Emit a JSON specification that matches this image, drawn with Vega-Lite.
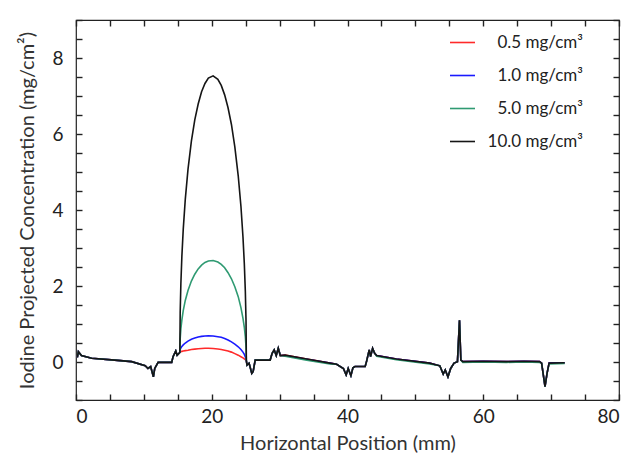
{
  "$schema": "https://vega.github.io/schema/vega-lite/v6.json",
  "width": 543,
  "height": 380,
  "autosize": {"type": "none"},
  "padding": {"left": 76, "top": 20, "right": 3, "bottom": 55},
  "background": "white",
  "config": {
    "view": {"stroke": "#222", "strokeWidth": 1.2},
    "font": "Lato",
    "axis": {"labelFont": "Lato", "labelFontSize": 19, "labelColor": "#222", "titleFont": "Lato", "titleFontSize": 20, "titleFontWeight": "normal", "titleColor": "#333"}
  },
  "data": {
    "values": [
      {"x":0.2,"r":0.12,"b":0.12,"g":0.12,"k":0.12},
      {"x":0.35,"r":0.27,"b":0.27,"g":0.27,"k":0.27},
      {"x":0.8,"r":0.17,"b":0.17,"g":0.17,"k":0.17},
      {"x":2.3,"r":0.10,"b":0.10,"g":0.10,"k":0.10},
      {"x":5.7,"r":0.05,"b":0.05,"g":0.05,"k":0.05},
      {"x":8.2,"r":0.01,"b":0.01,"g":0.01,"k":0.01},
      {"x":10.2,"r":-0.10,"b":-0.10,"g":-0.10,"k":-0.10},
      {"x":10.6,"r":-0.17,"b":-0.17,"g":-0.17,"k":-0.17},
      {"x":11.0,"r":-0.12,"b":-0.12,"g":-0.12,"k":-0.12},
      {"x":11.4,"r":-0.39,"b":-0.39,"g":-0.39,"k":-0.39},
      {"x":11.6,"r":-0.17,"b":-0.17,"g":-0.17,"k":-0.17},
      {"x":12.1,"r":-0.01,"b":-0.01,"g":-0.01,"k":-0.01},
      {"x":14.1,"r":-0.01,"b":-0.01,"g":-0.01,"k":-0.01},
      {"x":14.3,"r":0.14,"b":0.14,"g":0.14,"k":0.14},
      {"x":14.7,"r":0.29,"b":0.29,"g":0.29,"k":0.29},
      {"x":14.9,"r":0.18,"b":0.18,"g":0.18,"k":0.18},
      {"x":15.3,"r":0.25,"b":0.25,"g":0.25,"k":0.25},
      {"x":15.35,"r":0.26,"b":0.33,"g":0.61,"k":1.30},
      {"x":15.45,"r":0.27,"b":0.37,"g":0.87,"k":2.06},
      {"x":15.6,"r":0.28,"b":0.41,"g":1.11,"k":2.79},
      {"x":15.8,"r":0.29,"b":0.45,"g":1.35,"k":3.49},
      {"x":16.1,"r":0.30,"b":0.50,"g":1.62,"k":4.28},
      {"x":16.5,"r":0.31,"b":0.55,"g":1.88,"k":5.07},
      {"x":17.0,"r":0.33,"b":0.60,"g":2.13,"k":5.81},
      {"x":17.5,"r":0.34,"b":0.63,"g":2.31,"k":6.37},
      {"x":18.0,"r":0.35,"b":0.66,"g":2.45,"k":6.79},
      {"x":18.5,"r":0.355,"b":0.675,"g":2.55,"k":7.11},
      {"x":19.0,"r":0.36,"b":0.685,"g":2.62,"k":7.33},
      {"x":19.5,"r":0.36,"b":0.69,"g":2.66,"k":7.47},
      {"x":20.2,"r":0.355,"b":0.685,"g":2.67,"k":7.53},
      {"x":20.9,"r":0.34,"b":0.665,"g":2.63,"k":7.44},
      {"x":21.4,"r":0.33,"b":0.65,"g":2.57,"k":7.28},
      {"x":21.9,"r":0.31,"b":0.62,"g":2.48,"k":7.03},
      {"x":22.4,"r":0.29,"b":0.58,"g":2.35,"k":6.69},
      {"x":22.9,"r":0.26,"b":0.53,"g":2.19,"k":6.25},
      {"x":23.4,"r":0.22,"b":0.47,"g":1.98,"k":5.66},
      {"x":23.9,"r":0.18,"b":0.40,"g":1.72,"k":4.90},
      {"x":24.3,"r":0.14,"b":0.33,"g":1.43,"k":4.10},
      {"x":24.6,"r":0.11,"b":0.26,"g":1.15,"k":3.29},
      {"x":24.8,"r":0.08,"b":0.20,"g":0.91,"k":2.58},
      {"x":24.95,"r":0.06,"b":0.13,"g":0.66,"k":1.85},
      {"x":25.05,"r":0.04,"b":0.08,"g":0.39,"k":1.08},
      {"x":25.1,"r":0.03,"b":0.03,"g":0.03,"k":0.03},
      {"x":25.2,"r":-0.08,"b":-0.08,"g":-0.08,"k":-0.08},
      {"x":25.5,"r":-0.03,"b":-0.03,"g":-0.03,"k":-0.03},
      {"x":25.9,"r":-0.30,"b":-0.30,"g":-0.30,"k":-0.30},
      {"x":26.1,"r":-0.25,"b":-0.25,"g":-0.25,"k":-0.25},
      {"x":26.4,"r":0.05,"b":0.05,"g":0.05,"k":0.05},
      {"x":28.6,"r":0.05,"b":0.05,"g":0.05,"k":0.05},
      {"x":28.9,"r":0.23,"b":0.23,"g":0.23,"k":0.23},
      {"x":29.2,"r":0.32,"b":0.32,"g":0.32,"k":0.32},
      {"x":29.5,"r":0.17,"b":0.17,"g":0.17,"k":0.17},
      {"x":29.8,"r":0.36,"b":0.36,"g":0.36,"k":0.36},
      {"x":30.1,"r":0.17,"b":0.17,"g":0.17,"k":0.17},
      {"x":30.8,"r":0.18,"b":0.17,"g":0.15,"k":0.18},
      {"x":34.0,"r":0.08,"b":0.07,"g":0.05,"k":0.08},
      {"x":37.4,"r":-0.03,"b":-0.03,"g":-0.05,"k":-0.03},
      {"x":38.4,"r":-0.06,"b":-0.06,"g":-0.06,"k":-0.06},
      {"x":39.4,"r":-0.17,"b":-0.17,"g":-0.17,"k":-0.17},
      {"x":39.8,"r":-0.34,"b":-0.34,"g":-0.34,"k":-0.34},
      {"x":40.1,"r":-0.17,"b":-0.17,"g":-0.17,"k":-0.17},
      {"x":40.5,"r":-0.36,"b":-0.36,"g":-0.36,"k":-0.36},
      {"x":40.8,"r":-0.15,"b":-0.15,"g":-0.15,"k":-0.15},
      {"x":41.1,"r":-0.12,"b":-0.12,"g":-0.12,"k":-0.12},
      {"x":42.6,"r":-0.12,"b":-0.12,"g":-0.12,"k":-0.12},
      {"x":42.8,"r":0.01,"b":0.01,"g":0.01,"k":0.01},
      {"x":43.2,"r":0.32,"b":0.32,"g":0.32,"k":0.32},
      {"x":43.4,"r":0.14,"b":0.14,"g":0.14,"k":0.14},
      {"x":43.7,"r":0.36,"b":0.36,"g":0.36,"k":0.36},
      {"x":44.0,"r":0.23,"b":0.23,"g":0.23,"k":0.23},
      {"x":44.3,"r":0.17,"b":0.17,"g":0.15,"k":0.17},
      {"x":47.2,"r":0.08,"b":0.08,"g":0.06,"k":0.08},
      {"x":52.1,"r":-0.03,"b":-0.03,"g":-0.05,"k":-0.03},
      {"x":53.6,"r":-0.10,"b":-0.10,"g":-0.10,"k":-0.10},
      {"x":54.1,"r":-0.32,"b":-0.32,"g":-0.32,"k":-0.32},
      {"x":54.4,"r":-0.21,"b":-0.21,"g":-0.21,"k":-0.21},
      {"x":54.8,"r":-0.39,"b":-0.39,"g":-0.39,"k":-0.39},
      {"x":55.2,"r":-0.17,"b":-0.17,"g":-0.17,"k":-0.17},
      {"x":55.7,"r":-0.03,"b":-0.03,"g":-0.03,"k":-0.03},
      {"x":56.2,"r":0.01,"b":0.01,"g":0.01,"k":0.01},
      {"x":56.5,"r":1.10,"b":1.10,"g":1.10,"k":1.10},
      {"x":56.7,"r":0.05,"b":0.05,"g":0.05,"k":0.05},
      {"x":57.0,"r":0.01,"b":0.01,"g":-0.01,"k":0.01},
      {"x":60.0,"r":0.02,"b":0.02,"g":0.00,"k":0.02},
      {"x":63.4,"r":0.01,"b":0.01,"g":-0.01,"k":0.01},
      {"x":66.0,"r":0.02,"b":0.02,"g":0.00,"k":0.02},
      {"x":68.3,"r":0.01,"b":0.01,"g":-0.01,"k":0.01},
      {"x":68.6,"r":-0.03,"b":-0.03,"g":-0.03,"k":-0.03},
      {"x":69.1,"r":-0.65,"b":-0.65,"g":-0.65,"k":-0.65},
      {"x":69.4,"r":-0.30,"b":-0.30,"g":-0.30,"k":-0.30},
      {"x":69.7,"r":-0.03,"b":-0.03,"g":-0.05,"k":-0.03},
      {"x":72.0,"r":-0.02,"b":-0.02,"g":-0.04,"k":-0.02}
    ]
  },
  "transform": [{"fold": ["r", "b", "g", "k"], "as": ["series", "v"]}],
  "resolve": {"axis": {"x": "independent", "y": "independent"}},
  "layer": [
    {
      "mark": {"type": "line", "opacity": 0},
      "encoding": {
        "x": {"field": "x", "type": "quantitative", "scale": {"domain": [0, 80], "nice": false},
          "axis": {"orient": "top", "labels": false, "title": null, "grid": false, "domain": false, "tickCount": 16, "tickSize": -6, "tickColor": "#222", "tickWidth": 1.4}},
        "y": {"field": "v", "type": "quantitative", "scale": {"domain": [-1, 9], "nice": false},
          "axis": {"orient": "right", "labels": false, "title": null, "grid": false, "domain": false, "tickCount": 20, "tickSize": -6, "tickColor": "#222", "tickWidth": 1.4}},
        "detail": {"field": "series"}
      }
    },
    {
      "mark": {"type": "line", "strokeWidth": 1.6},
      "encoding": {
        "x": {"field": "x", "type": "quantitative",
          "axis": {"orient": "bottom", "title": "Horizontal Position (mm)", "grid": false, "domain": false, "tickCount": 16,
            "labelExpr": "datum.value % 20 === 0 ? datum.label : ''",
            "tickSize": 6, "offset": -6, "tickColor": "#222", "tickWidth": 1.4, "labelPadding": 7, "titlePadding": 7}},
        "y": {"field": "v", "type": "quantitative",
          "axis": {"orient": "left", "title": "Iodine Projected Concentration (mg/cm²)", "grid": false, "domain": false, "tickCount": 20,
            "labelExpr": "datum.value % 2 === 0 && datum.value >= 0 && datum.value <= 8 ? format(datum.value, 'd') : ''",
            "tickSize": 6, "offset": -6, "tickColor": "#222", "tickWidth": 1.4, "labelPadding": 13, "titlePadding": 14}},
        "color": {"field": "series", "type": "nominal",
          "scale": {"domain": ["r", "b", "g", "k"], "range": ["#ff2a2a", "#1a1aff", "#2f9a72", "#151515"]},
          "legend": {"orient": "none", "legendX": 373, "legendY": 9, "title": null,
            "labelExpr": "datum.value === 'r' ? '0.5 mg/cm³' : datum.value === 'b' ? '1.0 mg/cm³' : datum.value === 'g' ? '5.0 mg/cm³' : '10.0 mg/cm³'",
            "symbolType": "stroke", "symbolSize": 625, "symbolStrokeWidth": 1.6, "rowPadding": 11,
            "labelFont": "Lato", "labelFontSize": 17, "labelColor": "#222", "labelAlign": "right", "labelOffset": 107, "padding": 0}}
      }
    }
  ]
}
